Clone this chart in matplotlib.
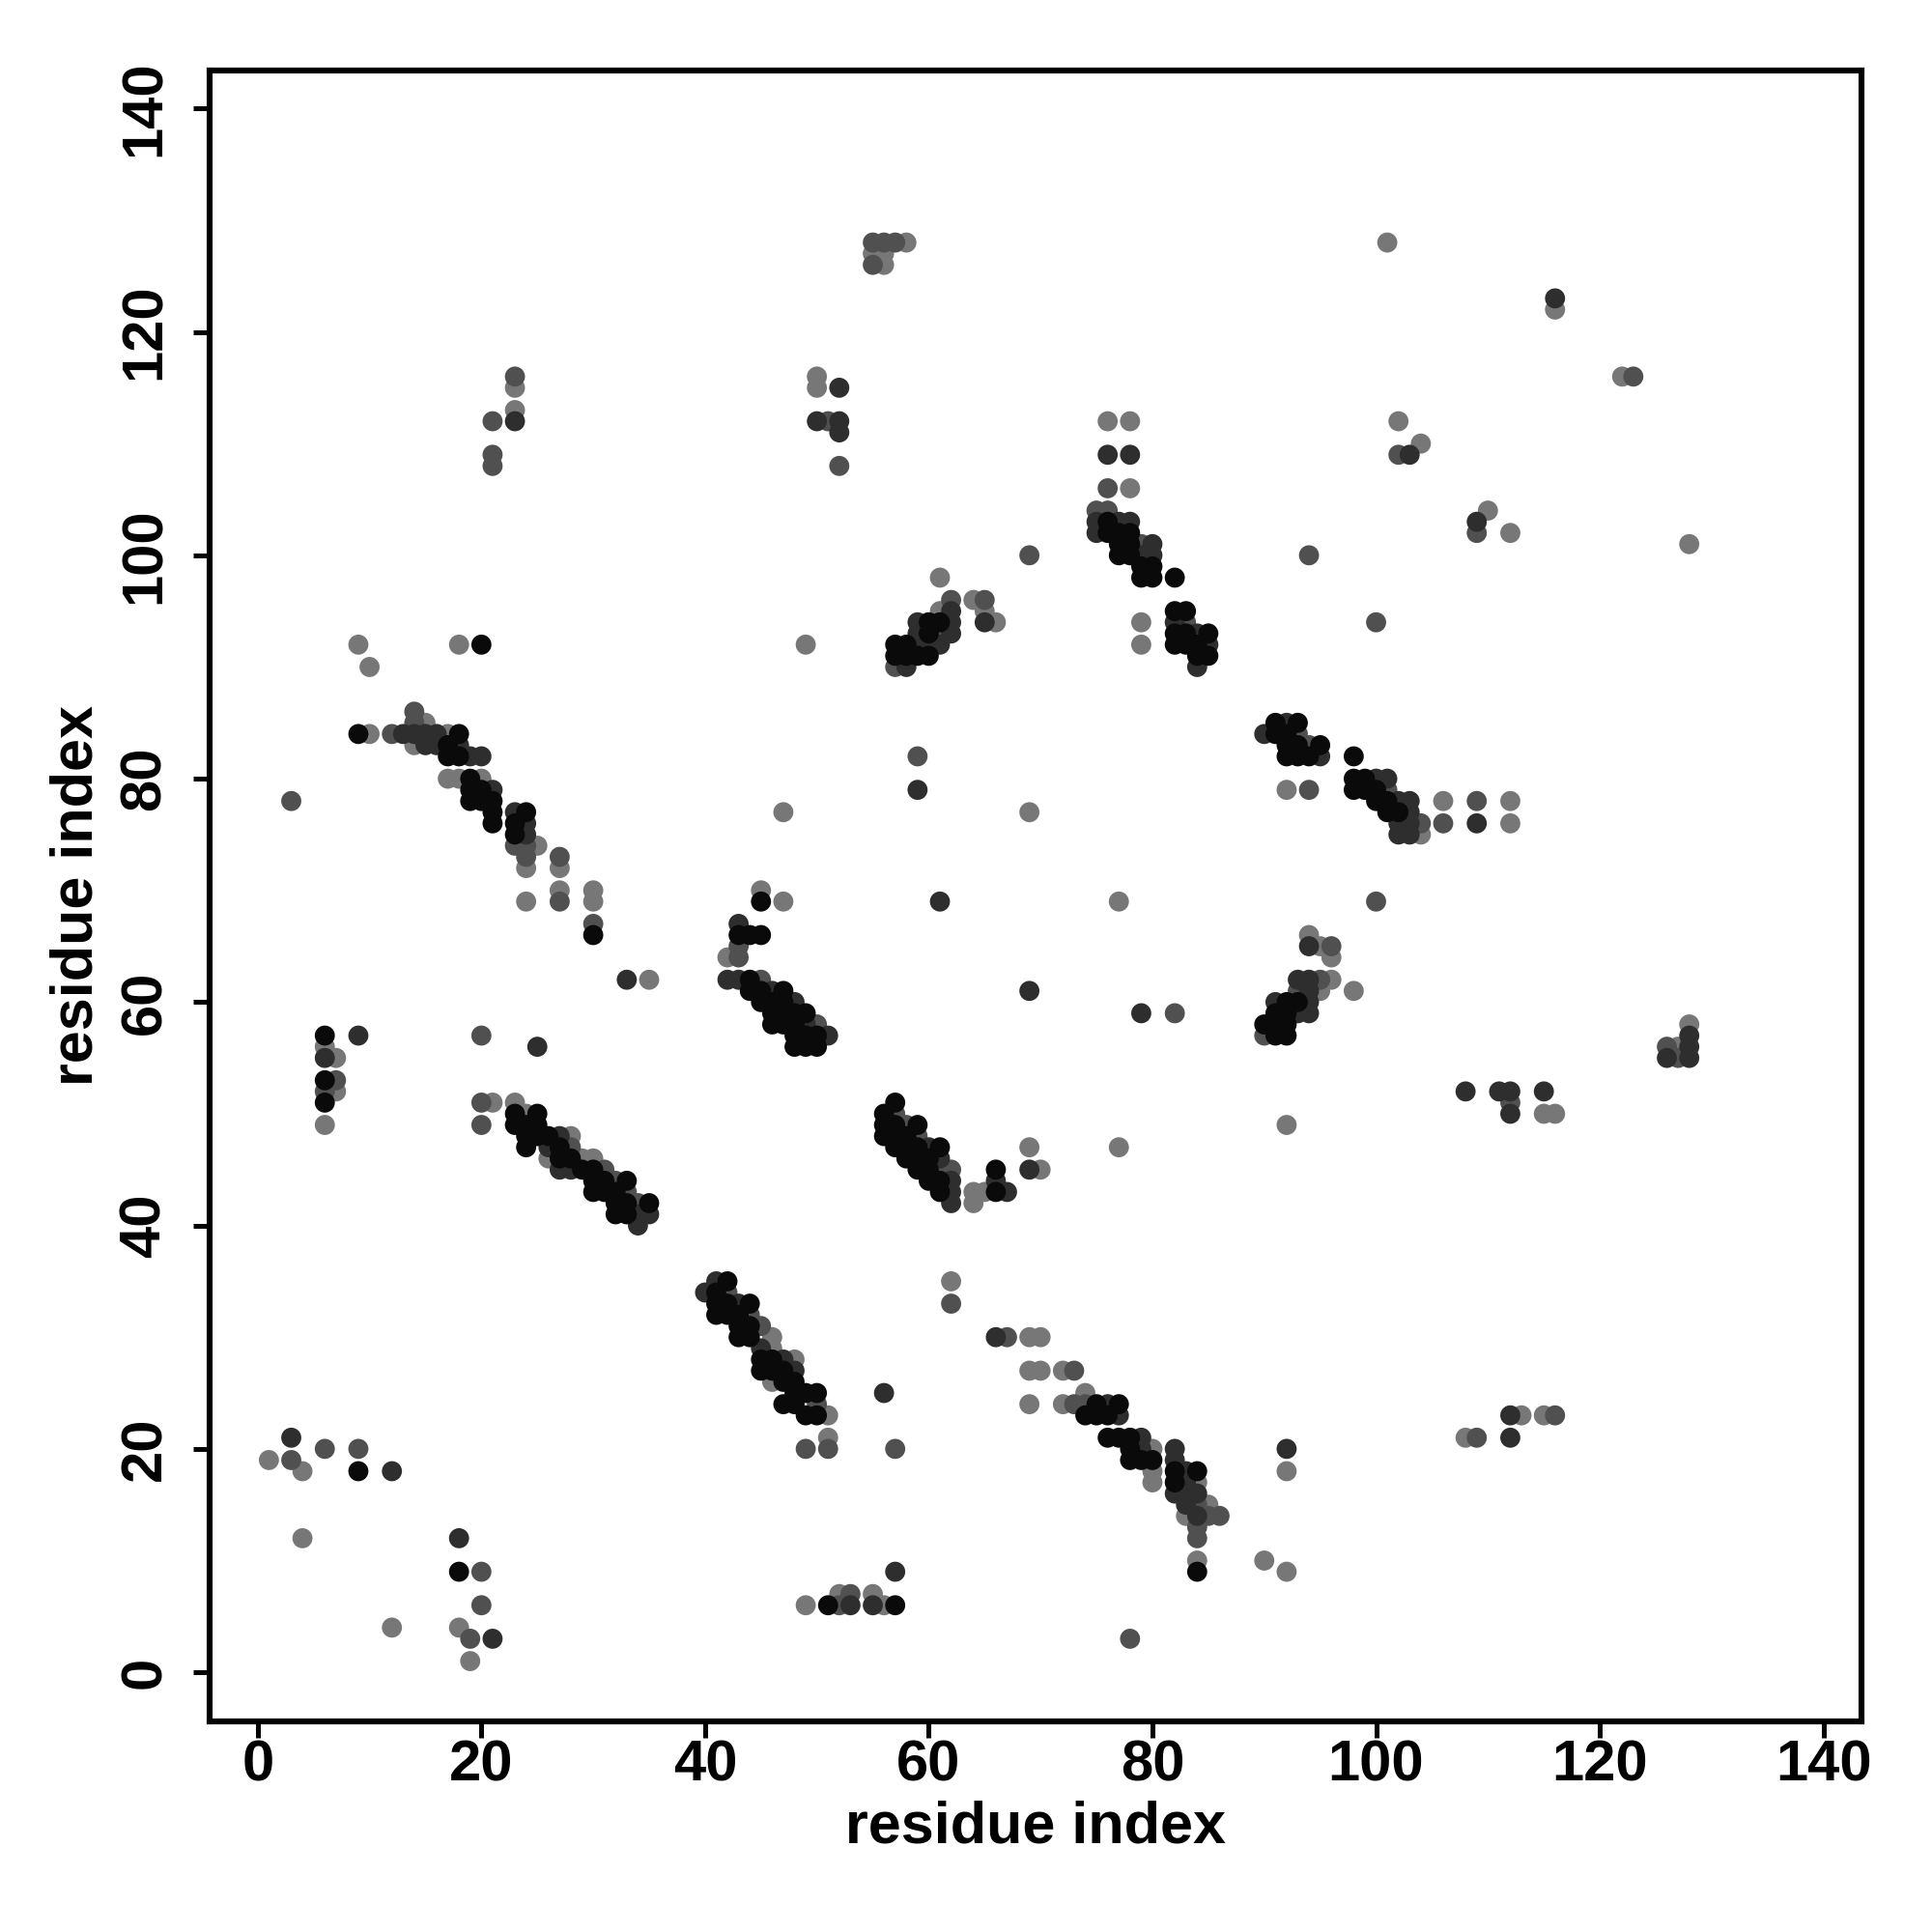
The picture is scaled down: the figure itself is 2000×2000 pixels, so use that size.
import matplotlib
matplotlib.use("Agg")
import matplotlib.pyplot as plt

# contact map: (residue i, residue j, shade) ; shade k=black, d=dark, m=medium, l=light
bottom_left = [(1,19,'l'),(3,21,'d'),(3,19,'m'),(4,18,'l'),(6,20,'m'),(9,20,'m'),(9,18,'k'),
  (12,18,'d'),(4,12,'l'),(18,12,'d'),(18,9,'k'),(20,9,'m'),(20,6,'m'),(12,4,'l'),(18,4,'l'),
  (19,3,'m'),(21,3,'d'),(19,1,'l')]

band_a = [(20,51,'m'),(20,49,'m'),(21,51,'l'),
  (23,51,'l'),(23,50,'k'),(23,49,'k'),
  (24,50,'l'),(24,49,'k'),(24,48,'k'),(24,47,'k'),
  (25,50,'k'),(25,49,'k'),(25,48,'k'),
  (26,48,'k'),(26,47,'d'),(26,46,'l'),
  (27,48,'d'),(27,47,'k'),(27,46,'k'),(27,45,'d'),
  (28,48,'l'),(28,47,'m'),(28,46,'k'),(28,45,'d'),
  (29,46,'l'),(29,45,'k'),
  (30,46,'l'),(30,45,'k'),(30,44,'k'),(30,43,'k'),
  (31,45,'m'),(31,44,'k'),(31,43,'k'),
  (32,44,'m'),(32,43,'k'),(32,42,'k'),(32,41,'k'),
  (33,44,'k'),(33,43,'m'),(33,42,'k'),(33,41,'k'),
  (34,42,'m'),(34,41,'d'),(34,40,'d'),
  (35,42,'k'),(35,41,'d')]

band_b = [(40,34,'d'),
  (41,35,'d'),(41,34,'k'),(41,33,'k'),(41,32,'k'),
  (42,35,'k'),(42,34,'m'),(42,33,'k'),(42,32,'k'),
  (43,33,'d'),(43,32,'k'),(43,31,'k'),(43,30,'k'),
  (44,33,'k'),(44,32,'m'),(44,31,'k'),(44,30,'k'),
  (45,31,'m'),(45,29,'d'),(45,28,'k'),(45,27,'k'),
  (46,30,'l'),(46,29,'l'),(46,28,'k'),(46,27,'k'),(46,26,'l'),
  (47,28,'d'),(47,27,'k'),(47,26,'k'),(47,24,'k'),
  (48,28,'l'),(48,27,'d'),(48,26,'k'),(48,25,'k'),(48,24,'k'),
  (49,25,'k'),(49,23,'k'),
  (50,25,'k'),(50,24,'m'),(50,23,'k'),
  (51,23,'l'),(51,21,'l'),(51,20,'m'),(49,20,'m')]

band_c = [(9,84,'k'),(10,84,'l'),(12,84,'m'),(13,84,'d'),
  (14,86,'m'),(14,85,'m'),(14,84,'d'),(14,83,'l'),
  (15,85,'l'),(15,84,'d'),(15,83,'d'),
  (16,84,'d'),(16,83,'d'),
  (17,84,'l'),(17,83,'k'),(17,82,'k'),(17,80,'l'),
  (18,84,'k'),(18,83,'d'),(18,82,'k'),(18,80,'l'),
  (19,82,'d'),(19,80,'k'),(19,79,'k'),(19,78,'k'),
  (20,82,'d'),(20,80,'l'),(20,79,'k'),(20,78,'k'),
  (21,79,'d'),(21,78,'k'),(21,77,'k'),(21,76,'k'),
  (23,77,'d'),(23,76,'k'),(23,75,'k'),(23,74,'m'),
  (24,77,'k'),(24,76,'d'),(24,75,'d'),(24,74,'m'),(24,73,'m'),(24,72,'l'),(24,69,'l'),
  (25,74,'l'),
  (27,73,'m'),(27,72,'l'),(27,70,'l'),(27,69,'m'),
  (30,70,'l'),(30,69,'l'),(30,67,'m'),(30,66,'k'),
  (33,62,'d'),(35,62,'l'),(3,78,'m')]

left_mid = [(6,57,'k'),(9,57,'d'),(6,56,'l'),(6,55,'d'),(7,55,'l'),(6,53,'k'),(7,53,'m'),
  (6,52,'m'),(7,52,'l'),(6,51,'k'),(6,49,'l'),(20,57,'m'),(25,56,'d')]

band_d = [(42,64,'l'),(43,65,'m'),(43,64,'m'),(43,66,'k'),(43,67,'d'),(44,66,'k'),(45,66,'k'),
  (45,70,'l'),(45,69,'k'),(47,69,'l'),
  (42,62,'d'),(43,62,'d'),(44,62,'k'),(45,62,'m'),(44,61,'k'),(45,61,'k'),(45,60,'k'),
  (46,61,'d'),(46,60,'k'),(46,59,'k'),(46,58,'k'),
  (47,61,'k'),(47,60,'k'),(47,59,'k'),(47,58,'k'),
  (48,60,'d'),(48,59,'k'),(48,58,'k'),(48,57,'k'),(48,56,'k'),
  (49,59,'k'),(49,58,'d'),(49,57,'k'),(49,56,'k'),
  (50,58,'m'),(50,57,'k'),(50,56,'k'),(51,57,'d')]

band_e = [(57,51,'k'),(56,50,'k'),(57,50,'m'),(56,49,'k'),(57,49,'k'),(58,49,'m'),
  (56,48,'k'),(57,48,'k'),(58,48,'k'),(59,49,'k'),(59,48,'m'),
  (57,47,'k'),(58,47,'k'),(59,47,'k'),(60,47,'d'),(61,47,'k'),
  (58,46,'k'),(59,46,'k'),(60,46,'k'),(61,46,'d'),
  (59,45,'k'),(60,45,'k'),(61,45,'m'),(62,45,'m'),
  (60,44,'k'),(61,44,'k'),(62,44,'d'),(61,43,'k'),(62,43,'d'),(62,42,'d'),
  (64,43,'l'),(64,42,'l'),(65,43,'l'),(66,45,'k'),(66,44,'d'),(66,43,'k'),(67,43,'d'),
  (69,45,'d'),(70,45,'l'),(69,47,'l'),(77,47,'l')]

bottom_mid = [(49,6,'l'),(51,6,'k'),(52,6,'m'),(53,6,'d'),(55,6,'d'),(56,6,'l'),(57,6,'k'),
  (52,7,'l'),(53,7,'m'),(55,7,'l'),(57,9,'d'),(57,20,'m'),(56,25,'d'),
  (62,35,'l'),(62,33,'m'),(66,30,'d'),(67,30,'m'),(69,30,'l'),(70,30,'l'),
  (69,27,'l'),(70,27,'l'),(72,27,'l'),(73,27,'m'),(69,24,'l'),(78,3,'m')]

band_f = [(72,24,'l'),(73,24,'m'),(74,25,'l'),(74,24,'m'),(75,24,'k'),(76,24,'d'),(77,24,'k'),
  (74,23,'k'),(75,23,'k'),(76,23,'k'),(77,23,'d'),
  (76,21,'k'),(77,21,'k'),(78,21,'k'),(79,21,'d'),
  (78,20,'k'),(79,20,'d'),(80,20,'l'),(78,19,'k'),(79,19,'k'),(80,19,'k'),
  (80,18,'l'),(80,17,'l'),
  (82,20,'d'),(82,19,'d'),(82,18,'k'),(82,17,'k'),(82,16,'d'),
  (83,18,'d'),(83,17,'d'),(83,16,'d'),(83,15,'d'),(83,14,'l'),
  (84,18,'k'),(84,17,'l'),(84,16,'d'),(84,15,'m'),(84,14,'d'),(84,13,'m'),(84,12,'m'),
  (85,15,'l'),(85,14,'m'),(86,14,'m'),(84,10,'l'),(84,9,'k'),
  (90,10,'l'),(92,9,'l'),(92,20,'d'),(92,18,'l')]

right_low = [(108,21,'l'),(109,21,'m'),(112,21,'d'),(112,23,'d'),(113,23,'l'),(115,23,'l'),(116,23,'m'),
  (108,52,'d'),(111,52,'d'),(112,52,'d'),(112,51,'m'),(112,50,'d'),(115,52,'d'),(115,50,'l'),(116,50,'l'),
  (92,49,'l'),
  (126,56,'m'),(126,55,'d'),(127,56,'l'),(127,55,'m'),(128,58,'l'),(128,57,'d'),(128,56,'d'),(128,55,'d')]

band_k = [(94,66,'l'),(94,65,'d'),(95,65,'l'),(96,65,'m'),(96,64,'l'),
  (93,62,'d'),(94,62,'d'),(95,62,'m'),(96,62,'l'),(93,61,'m'),(94,61,'d'),(95,61,'l'),(98,61,'l'),
  (91,60,'d'),(92,60,'k'),(93,60,'k'),(94,60,'d'),
  (91,59,'k'),(92,59,'k'),(93,59,'d'),(94,59,'d'),
  (90,58,'k'),(91,58,'k'),(92,58,'k'),(90,57,'m'),(91,57,'k'),(92,57,'k')]

middle = [(59,82,'m'),(59,79,'d'),(47,77,'l'),(69,77,'l'),(61,69,'d'),(77,69,'l'),
  (69,61,'d'),(79,59,'d'),(82,59,'m'),(49,92,'l'),(79,92,'l'),(79,94,'l'),(92,79,'l'),(94,79,'m'),
  (69,100,'m'),(94,100,'m'),(100,94,'m'),(100,69,'m')]

band_ij = [(90,84,'d'),(91,85,'k'),(92,85,'d'),(93,85,'k'),(91,84,'k'),(92,84,'k'),(93,84,'m'),
  (92,83,'k'),(93,83,'k'),(94,83,'m'),(95,83,'k'),(92,82,'k'),(93,82,'k'),(94,82,'k'),(95,82,'d'),
  (98,82,'k'),(98,80,'k'),(98,79,'k'),(99,80,'k'),(99,79,'k'),(100,80,'d'),(101,80,'d'),
  (100,79,'k'),(101,79,'m'),(100,78,'k'),(101,78,'k'),(102,78,'d'),(103,78,'d'),
  (101,77,'k'),(102,77,'k'),(103,77,'d'),(102,76,'d'),(103,76,'d'),(104,76,'m'),
  (102,75,'d'),(103,75,'d'),(104,75,'l'),
  (106,78,'l'),(106,76,'m'),(109,78,'m'),(109,76,'d'),(112,78,'l'),(112,76,'l')]

band_g = [(57,92,'k'),(58,92,'k'),(59,92,'d'),(60,92,'d'),(61,92,'d'),
  (57,91,'k'),(58,91,'k'),(59,91,'k'),(60,91,'k'),(57,90,'m'),(58,90,'d'),
  (59,93,'d'),(60,93,'k'),(61,93,'m'),(62,93,'d'),(59,94,'d'),(60,94,'k'),(61,94,'k'),(62,94,'d'),
  (61,95,'l'),(62,95,'d'),(62,96,'m'),(64,96,'l'),(65,96,'m'),(65,95,'l'),(65,94,'d'),(66,94,'l'),
  (61,98,'l')]

band_m = [(76,112,'l'),(78,112,'l'),(76,109,'d'),(78,109,'d'),(76,106,'m'),(78,106,'l'),
  (75,104,'m'),(76,104,'m'),(75,103,'d'),(75,102,'d'),(76,103,'k'),(76,102,'k'),
  (77,103,'d'),(78,103,'d'),(77,102,'k'),(78,102,'k'),(77,101,'k'),(78,101,'k'),(79,101,'m'),(80,101,'d'),
  (77,100,'k'),(78,100,'k'),(79,100,'d'),(80,100,'d'),(79,99,'k'),(80,99,'k'),(79,98,'k'),(80,98,'k'),
  (82,98,'k'),
  (82,95,'k'),(83,95,'k'),(82,94,'d'),(83,94,'m'),(82,93,'k'),(83,93,'k'),(84,93,'d'),(85,93,'k'),
  (82,92,'k'),(83,92,'k'),(84,92,'k'),(85,92,'d'),(84,91,'k'),(85,91,'k'),(84,90,'d')]

top_left = [(9,92,'l'),(10,90,'l'),(18,92,'l'),(20,92,'k'),
  (23,116,'m'),(23,115,'l'),(23,113,'l'),(23,112,'d'),(21,112,'m'),(21,109,'m'),(21,108,'m'),
  (50,116,'l'),(50,115,'l'),(52,115,'d'),(50,112,'d'),(51,112,'m'),(52,112,'d'),(52,111,'d'),(52,108,'m'),
  (55,128,'m'),(56,128,'m'),(57,128,'m'),(58,128,'l'),(55,127,'l'),(56,127,'l'),(55,126,'m'),(56,126,'l')]

top_right = [(101,128,'l'),(116,123,'d'),(116,122,'l'),(122,116,'l'),(123,116,'m'),
  (102,112,'l'),(102,109,'m'),(103,109,'d'),(104,110,'l'),
  (110,104,'l'),(109,103,'d'),(109,102,'m'),(112,102,'l'),(128,101,'l')]

shade_gray = {'k': '#0a0a0a', 'd': '#2e2e2e', 'm': '#505050', 'l': '#777777'}

contacts = (bottom_left + band_a + band_b + band_c + left_mid + band_d + band_e + bottom_mid +
            band_f + right_low + band_k + middle + band_ij + band_g + band_m + top_left + top_right)
# lighter first so the dark ones sit on top
order = {'l': 0, 'm': 1, 'd': 2, 'k': 3}
contacts = sorted(contacts, key=lambda p: order[p[2]])

xs = [p[0] for p in contacts]
ys = [p[1] for p in contacts]
cols = [shade_gray[p[2]] for p in contacts]

plt.rcParams['font.family'] = ['Liberation Sans', 'DejaVu Sans']
plt.rcParams['font.weight'] = 'bold'

fig = plt.figure(figsize=(10, 10), dpi=200)
ax = fig.add_axes([0.1085, 0.109, 0.855, 0.8545])
ax.scatter(xs, ys, s=56, c=cols, linewidths=0)

ax.set_xlim(-4.3, 143.4)
ax.set_ylim(-4.4, 143.4)
ax.set_xticks(range(0, 141, 20))
ax.set_yticks(range(0, 141, 20))
for sp in ax.spines.values():
  sp.set_linewidth(2.2)
ax.tick_params(axis='both', width=1.8, length=6, labelsize=21.5)
ax.tick_params(axis='x', pad=0.5)
ax.tick_params(axis='y', pad=8)
for lab in ax.get_yticklabels():
  lab.set_rotation(90)
  lab.set_va('center')
  lab.set_fontweight('bold')
for lab in ax.get_xticklabels():
  lab.set_fontweight('bold')

ax.set_xlabel('residue index', fontsize=22, fontweight='bold')
ax.set_ylabel('residue index', fontsize=22, fontweight='bold')
ax.xaxis.set_label_coords(0.5, -0.0644)
ax.xaxis.label.set_va('center')
ax.yaxis.set_label_coords(-0.0801, 0.5)
ax.yaxis.label.set_va('center')

fig.savefig('out.png', dpi=200, facecolor='white')
